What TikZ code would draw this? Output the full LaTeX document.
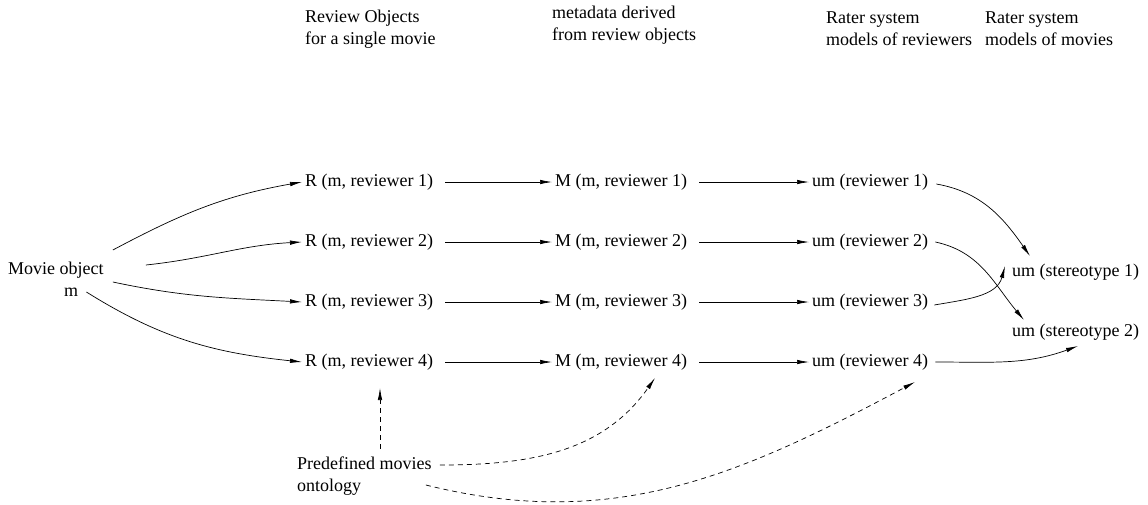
\documentclass[tikz,border=0pt]{standalone}
\usepackage{fontspec}
\setmainfont{Liberation Serif}
\usetikzlibrary{arrows.meta,positioning,calc}
\tikzstyle{arrow} = [line width=0.7pt,-{Latex[length=12pt,width=4.5pt]}]
\tikzstyle{ontoarrow} = [arrow,dash pattern=on 5pt off 4pt]
\tikzstyle{txt} = [inner sep=0pt,anchor=west,align=left,font=\fontsize{18}{22}\selectfont]

\begin{document}
\begin{tikzpicture}[x=1pt,y=-1pt]
    \useasboundingbox (0,0) rectangle (1148,504);

    % Column headings
    \node[txt] (hdrR) at (305,29) {Review Objects\\for a single movie};
    \node[txt] (hdrM) at (552,25) {metadata derived\\from review objects};
    \node[txt] (hdrU) at (826,29) {Rater system\\models of reviewers};
    \node[txt] (hdrS) at (985,29) {Rater system\\models of movies};

    % Movie object
    \node[txt] (movie) at (8,270) {Movie object};
    \node[txt] (moviem) at (64,292) {m};

    % Rows of objects
    \foreach \i/\y in {1/182,2/242,3/302,4/362} {
        \node[txt] (r\i) at (305,\y) {R (m, reviewer \i)};
        \node[txt] (md\i) at (555,\y) {M (m, reviewer \i)};
        \node[txt] (um\i) at (812,\y) {um (reviewer \i)};
        \draw[arrow, shorten <=12pt, shorten >=3pt] (r\i) -- (md\i);
        \draw[arrow, shorten <=12pt, shorten >=3pt] (md\i) -- (um\i);
    }

    % Stereotypes
    \node[txt] (st1) at (1012,272) {um (stereotype 1)};
    \node[txt] (st2) at (1012,332) {um (stereotype 2)};

    % Movie to reviews
    \draw[arrow] ($(movie.east)+(9,-20)$) to[out=28,in=190] ([xshift=-3pt]r1.west);
    \draw[arrow] ($(movie.east)+(42,-5)$) to[out=6,in=183] ([xshift=-3pt]r2.west);
    \draw[arrow] ($(movie.east)+(9,12)$) to[out=-12,in=177] ([xshift=-3pt]r3.west);
    \draw[arrow] ($(moviem.east)+(8,0)$) to[out=-32,in=174] ([xshift=-3pt]r4.west);

    % Reviewers to stereotypes
    \draw[arrow] ($(um1.east)+(8,2)$) to[out=-10,in=125] ($(st1.west)+(18,-16)$);
    \draw[arrow] ($(um2.east)+(7,0)$) to[out=-12,in=130] ($(st2.west)+(12,-12)$);
    \draw[arrow] ($(um3.east)+(6,3)$) to[out=10,in=-105] ($(st1.west)+(-7,-6)$);
    \draw[arrow] ($(um4.east)+(7,0)$) to[out=0,in=200] ($(st2.west)+(66,14)$);

    % Ontology
    \node[txt] (onto) at (297,476) {Predefined movies\\ontology};
    \coordinate (ontoR) at (380,388);
    \coordinate (ontoM) at (655,378);
    \coordinate (ontoU) at (915,382);
    \draw[ontoarrow] ($(onto.north west)+(83,-8)$) -- (ontoR);
    \draw[ontoarrow] ($(onto.east)+(8,-11)$) to[out=0,in=235] (ontoM);
    \draw[ontoarrow] ($(onto.east)+(-6,9)$) to[out=-14,in=208] (ontoU);
\end{tikzpicture}
\end{document}
